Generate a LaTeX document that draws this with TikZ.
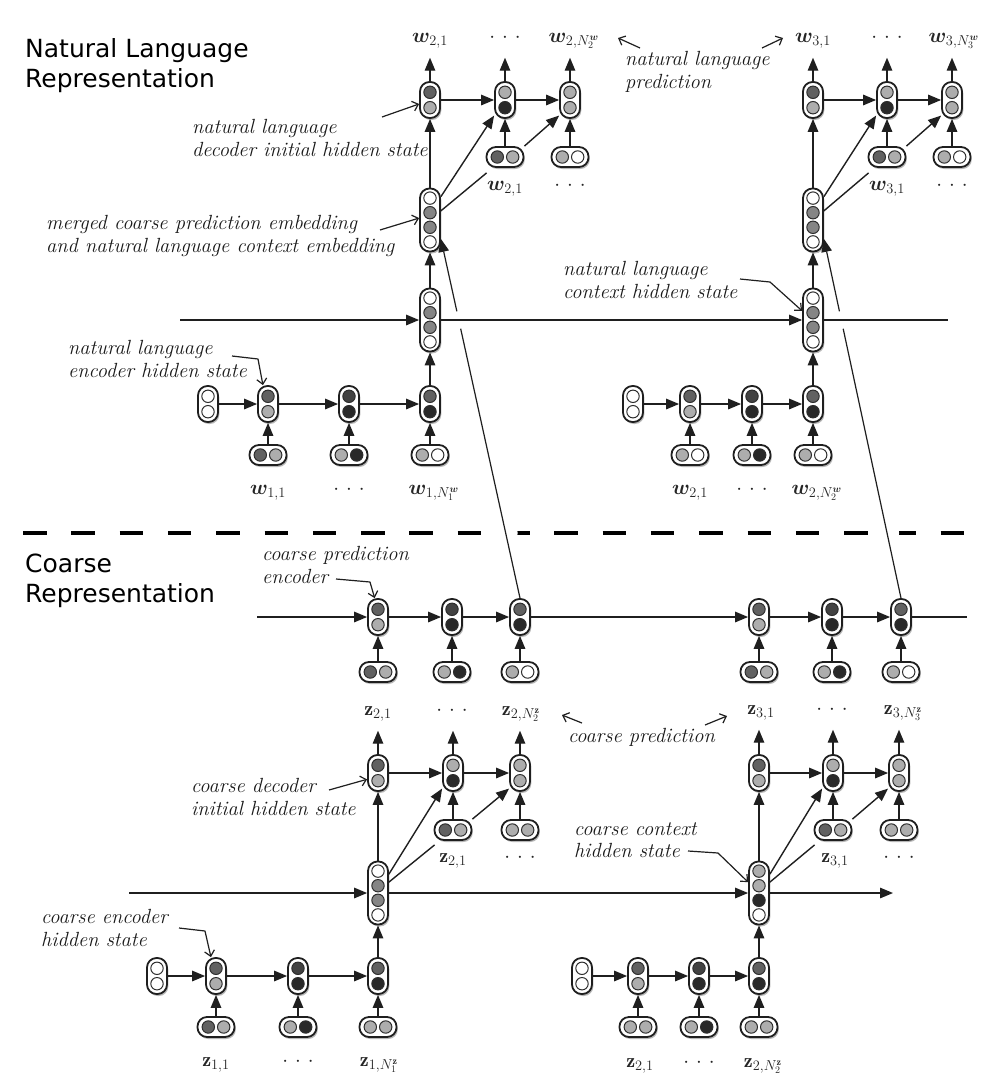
\documentclass[tikz,border=0pt]{standalone}
\usepackage{bm}
\usepackage{fontspec}
\newfontfamily\headfont{DejaVu Sans}
\usetikzlibrary{arrows.meta,shadows,calc,intersections}
\colorlet{cW}{white}
\colorlet{cL}{black!32}
\colorlet{cM}{black!48}
\colorlet{cD}{black!62}
\colorlet{cX}{black!74}
\colorlet{cK}{black!84}
\colorlet{ink}{black!88}
\tikzset{
  cellv/.style={draw=ink, line width=1.8pt, fill=white, rounded corners=9.5pt,
    minimum width=20pt, minimum height=36pt, inner sep=0pt,
    drop shadow={shadow xshift=1.3pt, shadow yshift=-2pt, fill=black!70, opacity=0.4}},
  cellq/.style={cellv, minimum height=63pt},
  cellh/.style={cellv, minimum width=37pt, minimum height=20pt},
  cdot/.style={draw=black!82, line width=1pt},
  arr/.style={draw=ink, line width=1.4pt, -{Triangle[length=13pt,width=10.5pt]}},
  lnk/.style={draw=ink, line width=1.4pt},
  ptr/.style={draw=ink, line width=1.2pt, line join=round, -{Straight Barb[length=5.5pt,width=10pt]}},
  lbl/.style={font=\fontsize{20.5}{22.5}\selectfont\itshape, align=left, anchor=west, inner sep=0pt, text=black!90},
  hd/.style={font=\headfont\fontsize{25}{30}\selectfont, align=left, anchor=west, inner sep=0pt},
  ml/.style={font=\fontsize{20}{24}\selectfont, inner sep=0pt, text height=9pt, text depth=0pt, text=black!85},
  outa/.style={arr, shorten >=15pt},
}
\newcommand\mkV[4]{\node[cellv] (#1) at (#2) {};
  \path[cdot,fill=#3] ([yshift=7.7pt]#1.center) circle (6.2pt);
  \path[cdot,fill=#4] ([yshift=-7.7pt]#1.center) circle (6.2pt);}
\newcommand\mkQ[6]{\node[cellq] (#1) at (#2) {};
  \path[cdot,fill=#3] ([yshift=21.9pt]#1.center) circle (6.2pt);
  \path[cdot,fill=#4] ([yshift=7.3pt]#1.center) circle (6.2pt);
  \path[cdot,fill=#5] ([yshift=-7.3pt]#1.center) circle (6.2pt);
  \path[cdot,fill=#6] ([yshift=-21.9pt]#1.center) circle (6.2pt);}
\newcommand\mkH[4]{\node[cellh] (#1) at (#2) {};
  \path[cdot,fill=#3] ([xshift=-7.7pt]#1.center) circle (6.2pt);
  \path[cdot,fill=#4] ([xshift=7.7pt]#1.center) circle (6.2pt);}
\newcommand\dts{$\cdot$\hspace{7pt}$\cdot$\hspace{7pt}$\cdot$}
\begin{document}
\begin{tikzpicture}[x=1pt,y=-1pt]
\fill[white] (0,0) rectangle (987,1087);
\useasboundingbox (0,0) rectangle (987,1087);

% separator
\draw[line width=4.5pt, dash pattern=on 23.5pt off 24.8pt, name path=dl] (23,533) -- (977,533);

% headings
\node[hd] (hNL) at (25,66) {Natural Language\\Representation};
\node[hd] (hC) at (25,581) {Coarse\\Representation};

% ---------- NL left ----------
\mkV{dA1}{430,100}{cD}{cL}
\mkV{dA2}{505,100}{cL}{cK}
\mkV{dA3}{570,100}{cL}{cL}
\mkH{iA2}{505,157}{cD}{cL}
\mkH{iA3}{570,157}{cL}{cW}
\mkQ{mA}{430,220}{cW}{cM}{cM}{cW}
\mkQ{cA}{430,320}{cW}{cM}{cM}{cW}
\mkV{eA0}{208,404}{cW}{cW}
\mkV{eA1}{268,404}{cD}{cL}
\mkV{eA2}{349,404}{cX}{cK}
\mkV{eA3}{430,404}{cD}{cK}
\mkH{gA1}{268,455}{cD}{cL}
\mkH{gA2}{349,455}{cL}{cK}
\mkH{gA3}{430,455}{cL}{cW}
% ---------- NL right ----------
\mkV{dB1}{813,100}{cD}{cL}
\mkV{dB2}{887,100}{cL}{cK}
\mkV{dB3}{952,100}{cL}{cL}
\mkH{iB2}{887,157}{cD}{cL}
\mkH{iB3}{952,157}{cL}{cW}
\mkQ{mB}{813,220}{cW}{cM}{cM}{cW}
\mkQ{cB}{813,320}{cW}{cM}{cM}{cW}
\mkV{eB0}{633,404}{cW}{cW}
\mkV{eB1}{690,404}{cD}{cL}
\mkV{eB2}{752,404}{cX}{cK}
\mkV{eB3}{813,404}{cD}{cK}
\mkH{gB1}{690,455}{cL}{cW}
\mkH{gB2}{752,455}{cL}{cK}
\mkH{gB3}{813,455}{cL}{cW}
% ---------- coarse prediction encoder ----------
\mkV{pA1}{378,617}{cD}{cL}
\mkV{pA2}{452,617}{cX}{cK}
\mkV{pA3}{520,617}{cD}{cK}
\mkV{pB1}{759,617}{cD}{cL}
\mkV{pB2}{832,617}{cX}{cK}
\mkV{pB3}{901,617}{cD}{cK}
\mkH{jA1}{378,672}{cD}{cL}
\mkH{jA2}{452,672}{cL}{cK}
\mkH{jA3}{520,672}{cL}{cW}
\mkH{jB1}{759,672}{cD}{cL}
\mkH{jB2}{832,672}{cL}{cK}
\mkH{jB3}{901,672}{cL}{cW}
% ---------- coarse decoder ----------
\mkV{qA1}{378,773}{cD}{cL}
\mkV{qA2}{453,773}{cL}{cK}
\mkV{qA3}{520,773}{cL}{cL}
\mkH{rA2}{453,830}{cD}{cL}
\mkH{rA3}{520,830}{cL}{cL}
\mkV{qB1}{759,773}{cD}{cL}
\mkV{qB2}{833,773}{cL}{cK}
\mkV{qB3}{899,773}{cL}{cL}
\mkH{rB2}{833,830}{cD}{cL}
\mkH{rB3}{899,830}{cL}{cL}
\mkQ{kA}{378,893}{cW}{cM}{cM}{cW}
\mkQ{kB}{759,893}{cL}{cL}{cK}{cW}
% ---------- coarse encoder ----------
\mkV{fA0}{157,976}{cW}{cW}
\mkV{fA1}{216,976}{cD}{cL}
\mkV{fA2}{298,976}{cX}{cK}
\mkV{fA3}{378,976}{cD}{cK}
\mkH{hA1}{216,1027}{cD}{cL}
\mkH{hA2}{298,1027}{cL}{cK}
\mkH{hA3}{378,1027}{cL}{cL}
\mkV{fB0}{582,976}{cW}{cW}
\mkV{fB1}{638,976}{cD}{cL}
\mkV{fB2}{699,976}{cX}{cK}
\mkV{fB3}{759,976}{cD}{cK}
\mkH{hB1}{638,1027}{cL}{cL}
\mkH{hB2}{699,1027}{cL}{cK}
\mkH{hB3}{759,1027}{cL}{cL}

% ---------- math labels ----------
\node[ml] (tA1) at (430,38) {$\bm{w}_{2,1}$};
\node[ml] (tA2) at (505,38) {\dts};
\node[ml] (tA3) at (574,38) {$\bm{w}_{2,N_2^{\bm{w}}}$};
\node[ml] (tB1) at (813,38) {$\bm{w}_{3,1}$};
\node[ml] (tB2) at (887,38) {\dts};
\node[ml] (tB3) at (954,38) {$\bm{w}_{3,N_3^{\bm{w}}}$};
\node[ml] (uA2) at (505,186) {$\bm{w}_{2,1}$};
\node[ml] (uA3) at (570,186) {\dts};
\node[ml] (uB2) at (887,186) {$\bm{w}_{3,1}$};
\node[ml] (uB3) at (952,186) {\dts};
\node[ml] (vA1) at (268,490) {$\bm{w}_{1,1}$};
\node[ml] (vA2) at (349,490) {\dts};
\node[ml] (vA3) at (434,490) {$\bm{w}_{1,N_1^{\bm{w}}}$};
\node[ml] (vB1) at (690,490) {$\bm{w}_{2,1}$};
\node[ml] (vB2) at (752,490) {\dts};
\node[ml] (vB3) at (817,490) {$\bm{w}_{2,N_2^{\bm{w}}}$};
\node[ml] (zA1) at (378,711) {$\mathbf{z}_{2,1}$};
\node[ml] (zA2) at (452,711) {\dts};
\node[ml] (zA3) at (521,711) {$\mathbf{z}_{2,N_2^{\mathbf{z}}}$};
\node[ml] (zB1) at (761,710) {$\mathbf{z}_{3,1}$};
\node[ml] (zB2) at (832,710) {\dts};
\node[ml] (zB3) at (903,710) {$\mathbf{z}_{3,N_3^{\mathbf{z}}}$};
\node[ml] (yA2) at (453,858) {$\mathbf{z}_{2,1}$};
\node[ml] (yA3) at (520,858) {\dts};
\node[ml] (yB2) at (835,858) {$\mathbf{z}_{3,1}$};
\node[ml] (yB3) at (899,858) {\dts};
\node[ml] (xA1) at (216,1062) {$\mathbf{z}_{1,1}$};
\node[ml] (xA2) at (298,1062) {\dts};
\node[ml] (xA3) at (379,1062) {$\mathbf{z}_{1,N_1^{\mathbf{z}}}$};
\node[ml] (xB1) at (640,1063) {$\mathbf{z}_{2,1}$};
\node[ml] (xB2) at (699,1063) {\dts};
\node[ml] (xB3) at (763,1063) {$\mathbf{z}_{2,N_2^{\mathbf{z}}}$};

% ---------- italic labels ----------
\node[lbl] (l1) at (192,138) {natural language\\decoder initial hidden state};
\node[lbl] (l2) at (46,236) {merged coarse prediction embedding\\and natural language context embedding};
\node[lbl] (l3) at (68,359) {natural language\\encoder hidden state};
\node[lbl] (l4) at (563,280) {natural language\\context hidden state};
\node[lbl] (l5) at (625,72) {natural language\\prediction};
\node[lbl] (l6) at (262,565) {coarse prediction\\encoder};
\node[lbl] (l7) at (568,737) {coarse prediction};
\node[lbl] (l8) at (191,797) {coarse decoder\\initial hidden state};
\node[lbl] (l9) at (574,840) {coarse context\\hidden state};
\node[lbl] (l10) at (41,928) {coarse encoder\\hidden state};

% ---------- NL decoders ----------
\foreach \s in {A,B}{
  \draw[arr] (d\s1) -- (d\s2);
  \draw[arr] (d\s2) -- (d\s3);
  \draw[arr] (i\s2) -- (d\s2);
  \draw[arr] (i\s3) -- (d\s3);
  \draw[arr] (m\s) -- (d\s1);
  \draw[arr] (m\s.65) -- (d\s2.235);
  \draw[lnk] (m\s.40) -- ($(i\s2.south west)+(1,5)$);
  \draw[arr] (i\s2.north east) -- (d\s3.235);
  \draw[outa] (d\s1) -- (t\s1);
  \draw[outa] (d\s2) -- (t\s2);
  \draw[outa] (d\s3.north) -- (d\s3.north |- t\s3.south);
  \draw[arr] (c\s) -- (m\s);
  \draw[arr] (e\s0) -- (e\s1);
  \draw[arr] (e\s1) -- (e\s2);
  \draw[arr] (e\s2) -- (e\s3);
  \draw[arr] (g\s1) -- (e\s1);
  \draw[arr] (g\s2) -- (e\s2);
  \draw[arr] (g\s3) -- (e\s3);
  \draw[arr] (e\s3) -- (c\s);
}
% ---------- coarse ----------
\foreach \s in {A,B}{
  \draw[arr] (j\s1) -- (p\s1);
  \draw[arr] (j\s2) -- (p\s2);
  \draw[arr] (j\s3) -- (p\s3);
  \draw[arr] (p\s1) -- (p\s2);
  \draw[arr] (p\s2) -- (p\s3);
  \draw[arr] (q\s1) -- (q\s2);
  \draw[arr] (q\s2) -- (q\s3);
  \draw[arr] (r\s2) -- (q\s2);
  \draw[arr] (r\s3) -- (q\s3);
  \draw[arr] (k\s) -- (q\s1);
  \draw[arr] (k\s.60) -- (q\s2.235);
  \draw[lnk] (k\s.45) -- ($(r\s2.south west)+(1,4)$);
  \draw[arr] (r\s2.north east) -- (q\s3.235);
  \draw[outa] (q\s1.north) -- (q\s1.north |- z\s1.south);
  \draw[outa] (q\s2.north) -- (q\s2.north |- z\s2.south);
  \draw[outa] (q\s3.north) -- (q\s3.north |- z\s3.south);
  \draw[arr] (f\s0) -- (f\s1);
  \draw[arr] (f\s1) -- (f\s2);
  \draw[arr] (f\s2) -- (f\s3);
  \draw[arr] (h\s1) -- (f\s1);
  \draw[arr] (h\s2) -- (f\s2);
  \draw[arr] (h\s3) -- (f\s3);
  \draw[arr] (f\s3) -- (k\s);
}
\coordinate (pS) at (257,617);
\coordinate (pE) at (967,617);
\draw[arr] (pS) -- (pA1);
\draw[arr] (pA3) -- (pB1);
\draw[lnk] (pB3) -- (pE);
\coordinate (kS) at (129,893);
\coordinate (kE) at (893,893);
\draw[arr] (kS) -- (kA);
\draw[arr] (kA) -- (kB);
\draw[arr] (kB) -- (kE);

% ---------- slanted links from coarse to NL ----------
\coordinate (hS) at (180,320);
\coordinate (hE) at (948,320);
\path[name path=sA] (pA3.north) -- (mA.-60);
\path[name path=sB] (pB3.north) -- (mB.-60);
\path[name path=hA] (cA.east) -- (cB.west);
\path[name path=hB] (cB.east) -- (hE);
\path[name intersections={of=dl and sA, by=xdA}];
\path[name intersections={of=dl and sB, by=xdB}];
\path[name intersections={of=hA and sA, by=xhA}];
\path[name intersections={of=hB and sB, by=xhB}];
\fill[white] (xdA) circle (12pt);
\fill[white] (xdB) circle (12pt);
\draw[arr, line width=1.2pt] (pA3.north) -- (mA.-60);
\draw[arr, line width=1.2pt] (pB3.north) -- (mB.-60);
\fill[white] (xhA) circle (9pt);
\fill[white] (xhB) circle (9pt);
\draw[arr] (hS) -- (cA);
\draw[arr] (cA) -- (cB);
\draw[lnk] (cB) -- (hE);

% ---------- pointers ----------
\coordinate (n1) at (382,117);
\draw[ptr] (n1) -- (dA1.200);
\coordinate (n2) at (380,230);
\draw[ptr] (n2) -- (mA.170);
\coordinate (n3) at (232,356); \coordinate (n3b) at (258,359);
\draw[ptr] (n3) -- (n3b) -- (eA1.105);
\coordinate (n4) at (740,279); \coordinate (n4b) at (770,282);
\draw[ptr] (n4) -- (n4b) -- (cB.140);
\coordinate (n5) at (640,48); \coordinate (n5t) at (618,38);
\draw[ptr] (n5) -- (n5t);
\coordinate (n6) at (762,48); \coordinate (n6t) at (783,38);
\draw[ptr] (n6) -- (n6t);
\coordinate (n7) at (336,579); \coordinate (n7b) at (370,582);
\draw[ptr] (n7) -- (n7b) -- (pA1.100);
\coordinate (n8) at (582,723); \coordinate (n8t) at (562,715);
\draw[ptr] (n8) -- (n8t);
\coordinate (n9) at (705,725); \coordinate (n9t) at (727,716);
\draw[ptr] (n9) -- (n9t);
\coordinate (n10) at (329,790);
\draw[ptr] (n10) -- (qA1.210);
\coordinate (n11) at (688,851); \coordinate (n11b) at (718,853);
\draw[ptr] (n11) -- (n11b) -- (kB.135);
\coordinate (n12) at (179,928); \coordinate (n12b) at (205,931);
\draw[ptr] (n12) -- (n12b) -- (fA1.105);
\end{tikzpicture}
\end{document}
